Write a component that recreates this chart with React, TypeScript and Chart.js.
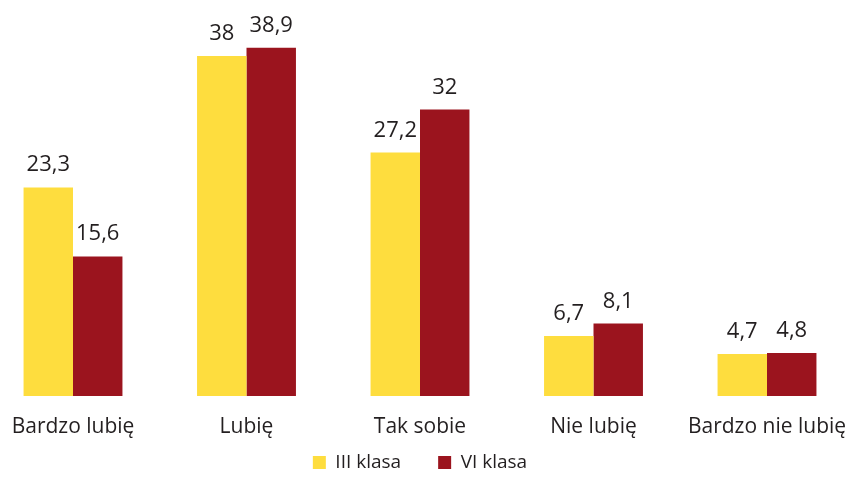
import React, { useEffect, useRef } from "react";
import { Chart, registerables } from "chart.js";

Chart.register(...registerables);

const categories = ["Bardzo lubię", "Lubię", "Tak sobie", "Nie lubię", "Bardzo nie lubię"];
const seriesNames = ["III klasa", "VI klasa"];
const klasa3 = [23.3, 38, 27.2, 6.7, 4.7];
const klasa6 = [15.6, 38.9, 32, 8.1, 4.8];
const colors = ["#FEDD3E", "#9B141E"];

const FONT = "'Open Sans', sans-serif";

const valueLabels = {
  id: "valueLabels",
  afterDatasetsDraw(chart: any) {
    const ctx = chart.ctx;
    ctx.save();
    ctx.font = `22px ${FONT}`;
    ctx.fillStyle = "#231f20";
    ctx.textAlign = "center";
    ctx.textBaseline = "alphabetic";
    chart.data.datasets.forEach((ds: any, di: number) => {
      const meta = chart.getDatasetMeta(di);
      meta.data.forEach((bar: any, i: number) => {
        const v = ds.data[i];
        ctx.fillText(String(v).replace(".", ","), bar.x, bar.y - 16);
      });
    });
    ctx.restore();
  },
};

export default function App() {
  const ref = useRef<HTMLCanvasElement>(null);
  useEffect(() => {
    const chart = new Chart(ref.current!, {
      type: "bar",
      data: {
        labels: categories,
        datasets: [
          { label: seriesNames[0], data: klasa3, backgroundColor: colors[0], clip: false as any },
          { label: seriesNames[1], data: klasa6, backgroundColor: colors[1], clip: false as any },
        ],
      },
      options: {
        animation: false,
        responsive: false,
        maintainAspectRatio: false,
        layout: { padding: { left: 73, right: 83, top: 38, bottom: 8 } },
        datasets: { bar: { categoryPercentage: 0.57, barPercentage: 1 } },
        scales: {
          x: {
            offset: false,
            grid: { display: false, drawTicks: false },
            border: { display: false },
            ticks: { font: { family: FONT, size: 21 }, color: "#231f20", padding: 18, maxRotation: 0, autoSkip: false },
            afterFit: (s: any) => {
              s.height = 20;
              s.paddingLeft = 0;
              s.paddingRight = 0;
              s._computeLabelArea = () => undefined;
            },
          },
          y: { display: false, min: 0, max: 40 },
        },
        plugins: {
          legend: {
            position: "bottom",
            labels: {
              boxWidth: 13,
              boxHeight: 13,
              padding: 37,
              font: { family: FONT, size: 19 },
              color: "#231f20",
            },
          },
          tooltip: { enabled: false },
        },
      },
      plugins: [valueLabels],
    });
    return () => chart.destroy();
  }, []);
  return (
    <div style={{ position: "fixed", left: 0, top: 0, width: 850, height: 490, background: "#fff" }}>
      <canvas ref={ref} width={850} height={490} />
    </div>
  );
}
